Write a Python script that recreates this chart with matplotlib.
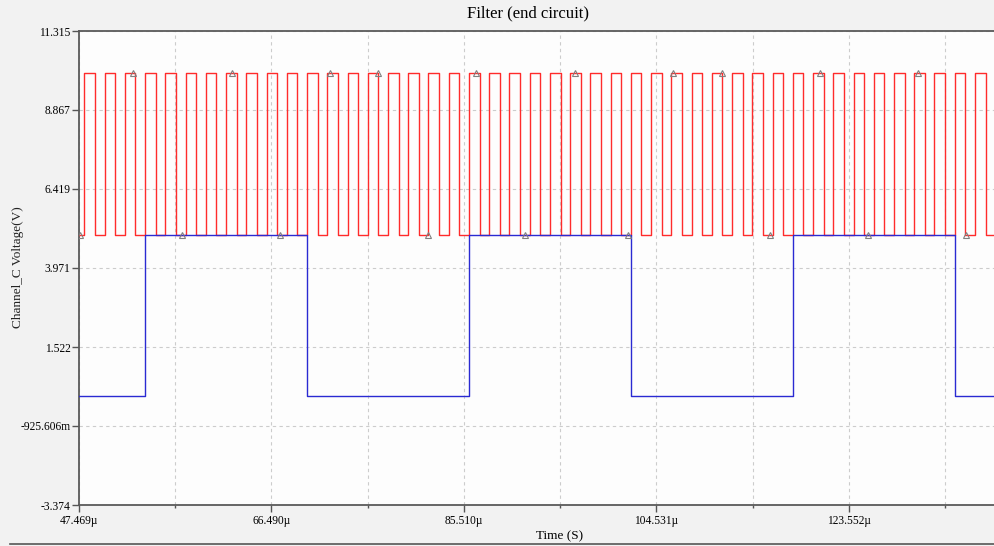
import numpy as np
import matplotlib
matplotlib.use('Agg')
import matplotlib.pyplot as plt
from matplotlib.lines import Line2D
from matplotlib.ticker import FixedLocator

# time axis in microseconds
t_start = 47.469
t_end = 137.98

# red trace (clock), edges in us, levels in V
red_rise = [48.0, 50.0, 52.0, 54.0, 56.0, 58.0, 60.0, 62.0, 64.0, 66.0,
            68.0, 70.0, 72.0, 74.0, 76.0, 78.0, 80.0, 82.0, 84.0, 86.0,
            88.0, 90.0, 92.0, 94.0, 96.0, 98.0, 100.0, 102.0, 104.0, 106.0,
            108.0, 110.0, 112.0, 114.0, 116.0, 118.0, 120.0, 122.0, 124.0, 126.0,
            128.0, 130.0, 132.0, 134.0, 136.0]
red_fall = [49.05, 51.05, 53.05, 55.05, 57.05, 59.05, 61.05, 63.05, 65.05, 67.05,
            69.05, 71.05, 73.05, 75.05, 77.05, 79.05, 81.05, 83.05, 85.05, 87.05,
            89.05, 91.05, 93.05, 95.05, 97.05, 99.05, 101.05, 103.05, 105.05, 107.05,
            109.05, 111.05, 113.05, 115.05, 117.05, 119.05, 121.05, 123.05, 125.05, 127.05,
            129.05, 131.05, 133.05, 135.05, 137.05]
red_low, red_high = 5.0, 10.0

# blue trace (divided output)
blue_t = [t_start, 54.0, 70.0, 86.0, 102.0, 118.0, 134.0, t_end]
blue_v = [0.0, 5.0, 0.0, 5.0, 0.0, 5.0, 0.0, 0.0]

# triangle markers on red trace
mk_t = [47.55, 52.8, 57.65, 62.59, 67.33, 72.27, 77.0, 81.95, 86.69, 91.53,
        96.47, 101.7, 106.16, 110.99, 115.7, 120.68, 125.4, 130.36, 135.1]
mk_v = [5, 10, 5, 10, 5, 10, 10, 5, 10, 5,
        10, 5, 10, 10, 5, 10, 5, 10, 5]

xt_vals = [47.469, 66.490, 85.510, 104.531, 123.552]
xt_labels = ['47.469µ', '66.490µ', '85.510µ', '104.531µ', '123.552µ']
xt_minor = [56.980, 76.000, 95.021, 114.042, 133.062]
yt_vals = [11.315, 8.867, 6.419, 3.971, 1.522, -0.925606, -3.374]
yt_labels = ['11.315', '8.867', '6.419', '3.971', '1.522', '-925.606m', '-3.374']

plt.rcParams['font.family'] = ['Liberation Serif', 'DejaVu Serif']

fig = plt.figure(figsize=(9.95, 5.46), dpi=100, facecolor='#f2f2f2')
ax = fig.add_axes([79/995, 1-505/546, 1-79/995, (505-31)/546])
ax.set_facecolor('#fdfdfd')

# build red step data
rt = [t_start]
rv = [red_low]
for r, f in zip(red_rise, red_fall):
    rt += [r, f]
    rv += [red_high, red_low]
rt.append(t_end)
rv.append(red_low)

ax.plot(rt, rv, drawstyle='steps-post', color='#ff2b2b', lw=1.0, zorder=3)
ax.plot(blue_t, blue_v, drawstyle='steps-post', color='#2a2ad2', lw=1.0, zorder=4)
ax.plot(mk_t, mk_v, ls='none', marker='^', ms=4.5, mfc='none', mec='#808080', mew=0.8, zorder=5)

ax.set_xlim(t_start, t_end)
ax.set_ylim(-3.374, 11.315)
ax.set_xticks(xt_vals)
ax.set_xticklabels(xt_labels)
ax.xaxis.set_minor_locator(FixedLocator(xt_minor))
ax.set_yticks(yt_vals)
ax.set_yticklabels(yt_labels)

ax.grid(True, which='both', axis='x', color='#cccccc', lw=0.8, ls=(0, (3, 3)))
ax.grid(True, which='major', axis='y', color='#cccccc', lw=0.8, ls=(0, (3, 3)))
ax.set_axisbelow(True)

ax.tick_params(axis='both', which='major', labelsize=8.3, length=5, width=1, color='#555555')
ax.tick_params(axis='y', which='major', pad=1)
ax.tick_params(axis='x', which='major', pad=2)
ax.tick_params(axis='x', which='minor', length=2, width=1, color='#555555')

for s in ['left', 'bottom', 'top']:
    ax.spines[s].set_color('#5a5a5a')
    ax.spines[s].set_linewidth(1.3)
ax.spines['right'].set_visible(False)

fig.text(528/995, 1-13/546, 'Filter (end circuit)', ha='center', va='center', fontsize=12)
fig.text(560/995, 1-536/546, 'Time (S)', ha='center', va='center', fontsize=9.5)
fig.text(18/995, 1-267/546, 'Channel_C Voltage(V)', ha='center', va='center',
         rotation=90, fontsize=9.5, color='#222222')

fig.add_artist(Line2D([10/995, 1], [1-544/546, 1-544/546], color='#555555', lw=1.2))

fig.savefig('out.png', dpi=100, facecolor=fig.get_facecolor())
